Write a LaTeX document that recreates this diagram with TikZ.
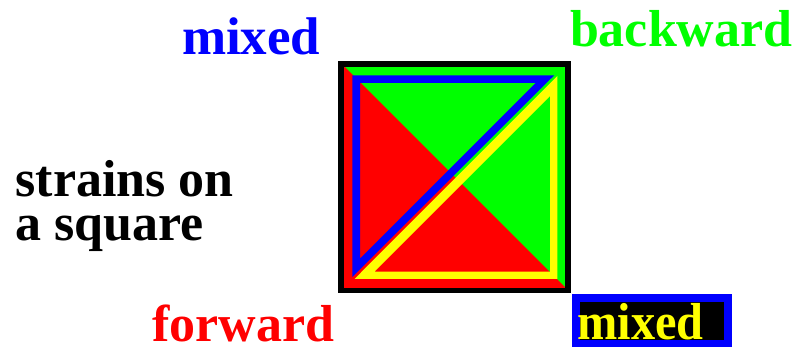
\documentclass[tikz,border=0pt]{standalone}
\usepackage{fontspec}
\setmainfont{Liberation Serif}
\definecolor{pblue}{RGB}{0,0,255}
\definecolor{pgreen}{RGB}{0,255,0}
\definecolor{pred}{RGB}{255,0,0}
\definecolor{pyellow}{RGB}{255,255,0}
\begin{document}
\begin{tikzpicture}[x=1pt,y=-1pt,
  lab/.style={anchor=base west,inner sep=0pt,outer sep=0pt,font=\fontsize{52}{52}\selectfont\bfseries}]
\useasboundingbox (0,0) rectangle (798,347);
% square fills
\fill[pred] (344,66) rectangle (566,288);
\fill[pgreen] (344,66) -- (566,66) -- (566,288) -- cycle;
% blue triangle outline
\fill[pblue,even odd rule] (352.3,75.5) -- (554.0,75.5) -- (352.3,277.0) -- cycle
  (360,82.8) -- (535.8,82.8) -- (360,258.6) -- cycle;
% yellow triangle outline
\fill[pyellow,even odd rule] (557.4,76.0) -- (557.4,279.0) -- (354.5,279.0) -- cycle
  (550,96.2) -- (550,271.7) -- (374.5,271.7) -- cycle;
% black frame
\draw[line width=5.5pt] (341.2,63.8) rectangle (568.2,290.5);
% labels
\node[lab,text=pblue,font=\fontsize{53}{53}\selectfont\bfseries] (mixtop) at (182,55) {mixed};
\node[lab,text=pgreen] (backward) at (570,46.7) {backward};
\node[lab] (strains1) at (15.5,196.7) {strains on};
\node[lab] (strains2) at (15.5,240.7) {a square};
\node[lab,text=pred] (forward) at (152.5,341.7) {forward};
% boxed mixed
\fill[pblue] (572.3,294.3) rectangle (731.7,347);
\fill[black] (580,302.3) rectangle (724,340);
\node[lab,text=pyellow,xscale=0.93] (mixbox) at (577.5,339.5) {mixed};
\end{tikzpicture}
\end{document}
